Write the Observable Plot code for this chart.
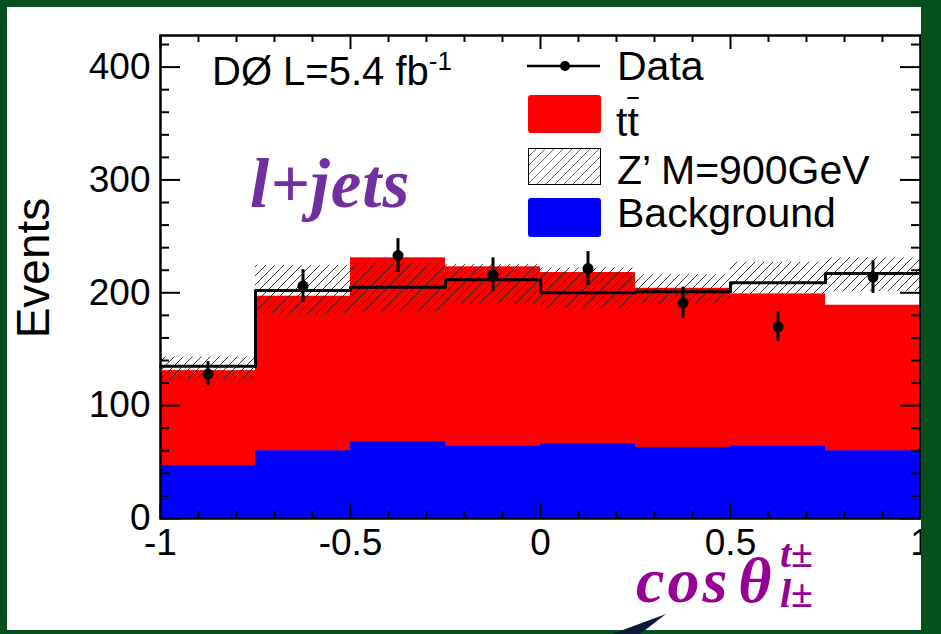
<!DOCTYPE html>
<html><head><meta charset="utf-8">
<script src="https://cdn.jsdelivr.net/npm/d3@7"></script>
<script src="https://cdn.jsdelivr.net/npm/@observablehq/plot@0.6"></script>
<style>
body{margin:0;background:#05501e;}
#wrap{position:relative;width:941px;height:634px;background:#fff;overflow:hidden;}
#chart{position:absolute;left:0;top:0;}
.ann{position:absolute;white-space:nowrap;line-height:1;}
.sans{font-family:"Liberation Sans",Arial,Helvetica,sans-serif;color:#000;}
.serif{font-family:"Liberation Serif","Times New Roman",serif;font-weight:bold;font-style:italic;}
.sw{position:absolute;left:528px;width:73px;border-radius:3px;}
.bd{position:absolute;background:#05501e;}
</style></head>
<body>
<div id="wrap">
  <div id="chart"></div>
  <!-- annotations -->
  <div class="ann sans" style="left:212px;top:51px;font-size:40px;">DØ L=5.4 fb<span style="font-size:26px;position:relative;top:-15px;">-1</span></div>
  <div class="ann serif" style="left:250px;top:150px;font-size:69px;color:#7030a0;letter-spacing:1px;">l+jets</div>
  <div class="ann serif" style="left:636px;top:554px;font-size:64px;line-height:0.85;color:#960096;"><span style="letter-spacing:3px;">cos</span><span style="margin-left:8px;">θ</span></div>
  <div class="ann serif" style="left:780px;top:538px;font-size:40px;line-height:0.8;color:#960096;">t±</div>
  <div class="ann serif" style="left:780px;top:578px;font-size:40px;line-height:0.8;color:#960096;">l±</div>
  <!-- legend -->
  <svg style="position:absolute;left:520px;top:56px;" width="90" height="20"><line x1="7" y1="10" x2="80" y2="10" stroke="#000" stroke-width="2.5"/><circle cx="45" cy="10" r="5" fill="#000"/></svg>
  <div class="ann sans" style="left:617px;top:46px;font-size:41px;">Data</div>
  <div class="sw" style="top:95px;height:38px;background:#ff0000;"></div>
  <div class="ann sans" style="left:616px;top:102px;font-size:41px;">t<span style="text-decoration:overline;text-decoration-thickness:2px;">t</span></div>
  <svg class="sw" style="top:148px;height:37px;border-radius:0;" width="73" height="37">
    <defs><pattern id="hatchL" patternUnits="userSpaceOnUse" width="9" height="9"><path d="M-2,2 l4,-4 M0,9 l9,-9 M7,11 l4,-4" stroke="#444" stroke-width="0.8"/></pattern></defs>
    <rect x="0.5" y="0.5" width="72" height="36" fill="url(#hatchL)" stroke="#000" stroke-width="1"/>
  </svg>
  <div class="ann sans" style="left:617px;top:150px;font-size:41px;">Z’ M=900GeV</div>
  <div class="sw" style="top:198px;height:39px;background:#0000ff;"></div>
  <div class="ann sans" style="left:617px;top:193px;font-size:41px;">Background</div>
  <div class="ann sans" style="left:-62px;top:245px;width:190px;text-align:center;font-size:46px;transform:rotate(-90deg);transform-origin:50% 50%;">Events</div>
  <!-- green slide border -->
  <div class="bd" style="left:0;top:0;width:941px;height:7px;"></div>
  <div class="bd" style="left:0;top:0;width:7px;height:634px;"></div>
  <div class="bd" style="left:921px;top:0;width:20px;height:634px;"></div>
  <div class="bd" style="left:0;top:630px;width:941px;height:4px;"></div>
  <svg style="position:absolute;left:0;top:0;" width="941" height="634"><polygon points="612,634 666,614 640,634" fill="#0c1a3a"/></svg>
</div>
<script>
// ---- data ----
const binLow  = [-1, -0.75, -0.5, -0.25, 0, 0.25, 0.5, 0.75];
const binHigh = [-0.75, -0.5, -0.25, 0, 0.25, 0.5, 0.75, 1];
const background = [47, 60, 68, 64, 66, 63, 64, 60];
const ttbarStackTop = [131, 197, 231, 223, 218, 204, 199, 189];
const zprimeTotal = [135, 202, 205, 211.5, 200, 201, 209, 217];
const zprimeLow  = [123, 181, 183, 190, 186, 190, 199, 201];
const zprimeHigh = [143, 224, 226, 225, 222, 216, 227, 231];
const dataX = [-0.875, -0.625, -0.375, -0.125, 0.125, 0.375, 0.625, 0.875];
const dataY = [128, 206, 233, 216, 221.5, 191, 170, 214];
const dataErr = [11, 14.5, 15, 15, 15, 14, 13, 14.5];
const xMajor = [-1, -0.5, 0, 0.5, 1];
const xLabels = ["-1", "-0.5", "0", "0.5", "1"];
const xMinor = [-0.9, -0.8, -0.7, -0.6, -0.4, -0.3, -0.2, -0.1, 0.1, 0.2, 0.3, 0.4, 0.6, 0.7, 0.8, 0.9];
const yMajor = [0, 100, 200, 300, 400];
const yLabels = ["0", "100", "200", "300", "400"];
const yMinor = [20, 40, 60, 80, 120, 140, 160, 180, 220, 240, 260, 280, 320, 340, 360, 380, 420];
const yMax = 428;

// ---- derived tables ----
const bins = binLow.map((lo, i) => ({lo, hi: binHigh[i], bkg: background[i], tt: ttbarStackTop[i],
  tot: zprimeTotal[i], zlo: zprimeLow[i], zhi: zprimeHigh[i]}));
const stepPts = bins.flatMap(b => [{x: b.lo, y: b.tot}, {x: b.hi, y: b.tot}]);
const pts = dataX.map((x, i) => ({x, y: dataY[i], lo: dataY[i] - dataErr[i], hi: dataY[i] + dataErr[i]}));

const W = 941, H = 634, mL = 160, mR = 21, mT = 35, mB = 116;
const uy = yMax / (H - mT - mB);   // data units per px (y)
const ux = 2 / (W - mL - mR);      // data units per px (x)

const plot = Plot.plot({
  width: W, height: H,
  marginLeft: mL, marginRight: mR, marginTop: mT, marginBottom: mB,
  x: {domain: [-1, 1]},
  y: {domain: [0, yMax]},
  style: {background: "transparent", fontFamily: "'Liberation Sans', Arial, sans-serif", color: "#000", overflow: "visible"},
  marks: [
    Plot.rect(bins, {x1: "lo", x2: "hi", y1: 0, y2: "tt", fill: "#ff0000", inset: 0}),
    Plot.rect(bins, {x1: "lo", x2: "hi", y1: 0, y2: "bkg", fill: "#0000ff", inset: 0}),
    Plot.rect(bins, {x1: "lo", x2: "hi", y1: "zlo", y2: "zhi", fill: "url(#hatch)", inset: 0}),
    Plot.line(stepPts, {x: "x", y: "y", stroke: "#000", strokeWidth: 3, curve: "linear"}),
    Plot.ruleX(pts, {x: "x", y1: "lo", y2: "hi", stroke: "#000", strokeWidth: 3}),
    Plot.dot(pts, {x: "x", y: "y", r: 5.5, fill: "#000"}),
    // tick marks (inside), all four sides
    Plot.ruleX(xMajor, {x: d => d, y1: 0, y2: 14 * uy, stroke: "#000", strokeWidth: 2}),
    Plot.ruleX(xMinor, {x: d => d, y1: 0, y2: 7 * uy, stroke: "#000", strokeWidth: 2}),
    Plot.ruleX(xMajor, {x: d => d, y1: yMax, y2: yMax - 14 * uy, stroke: "#000", strokeWidth: 2}),
    Plot.ruleX(xMinor, {x: d => d, y1: yMax, y2: yMax - 7 * uy, stroke: "#000", strokeWidth: 2}),
    Plot.ruleY(yMajor, {y: d => d, x1: -1, x2: -1 + 20 * ux, stroke: "#000", strokeWidth: 2}),
    Plot.ruleY(yMinor, {y: d => d, x1: -1, x2: -1 + 9 * ux, stroke: "#000", strokeWidth: 2}),
    Plot.ruleY(yMajor, {y: d => d, x1: 1, x2: 1 - 20 * ux, stroke: "#000", strokeWidth: 2}),
    Plot.ruleY(yMinor, {y: d => d, x1: 1, x2: 1 - 9 * ux, stroke: "#000", strokeWidth: 2}),
    Plot.frame({stroke: "#000", strokeWidth: 2.5}),
    Plot.axisX(xMajor, {anchor: "bottom", tickSize: 0, tickPadding: 10, fontSize: 37, label: null,
      tickFormat: d => xLabels[xMajor.indexOf(d)]}),
    Plot.axisY(yMajor, {anchor: "left", tickSize: 0, tickPadding: 10, fontSize: 37, label: null,
      tickFormat: d => yLabels[yMajor.indexOf(d)]})
  ]
});
const ns = "http://www.w3.org/2000/svg";
const defs = document.createElementNS(ns, "defs");
defs.innerHTML = '<pattern id="hatch" patternUnits="userSpaceOnUse" width="9" height="9"><path d="M-2,2 l4,-4 M0,9 l9,-9 M7,11 l4,-4" stroke="#222" stroke-width="0.9" fill="none"/></pattern>';
plot.insertBefore(defs, plot.firstChild);
document.getElementById("chart").appendChild(plot);
</script>
</body></html>
